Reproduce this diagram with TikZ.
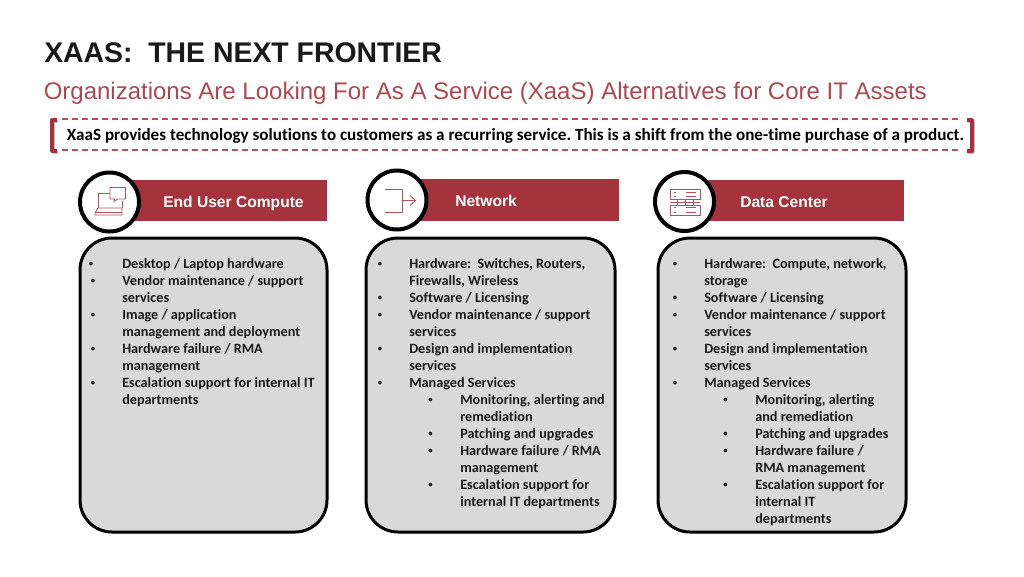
\documentclass[tikz,border=0pt]{standalone}
\usepackage{fontspec}
\setmainfont[RawFeature={-liga}]{Carlito}
\newfontfamily\arial{Liberation Sans}
\definecolor{xred}{HTML}{A5333B}
\definecolor{xicon}{HTML}{B5505A}
\definecolor{xgrey}{HTML}{D9D9D9}
\newlength{\xpx}\setlength{\xpx}{0.75pt}
\newlength{\bux}\setlength{\bux}{0.5pt}
\newcommand{\Dot}{\raisebox{1.8\xpx}{\fontsize{6.5}{6.5}\selectfont •}}
\newcommand{\Bu}[1]{\makebox[32\xpx][l]{\hspace*{\bux}\Dot}#1}
\newcommand{\Co}[1]{\makebox[32\xpx][l]{}#1}
\newcommand{\Sb}[1]{\makebox[51\xpx][l]{}\makebox[32\xpx][l]{\Dot}#1}
\newcommand{\Ss}[1]{\makebox[51\xpx][l]{}\makebox[32\xpx][l]{}#1}
\tikzset{
  x=0.75pt,y=-0.75pt,
  panel/.style={draw=black,line width=2.25pt,fill=xgrey,rounded corners=24pt},
  banner/.style={fill=xred,draw=none},
  ring/.style={draw=black,line width=3pt,fill=white},
  bannertext/.style={text=white,font=\arial\bfseries\fontsize{11.7}{13}\selectfont,anchor=base west,inner sep=0pt},
  body/.style={anchor=north west,align=left,inner sep=0pt,font=\bfseries\fontsize{10.65}{12.75}\selectfont,text=black!90},
  ico/.style={draw=xicon,line width=0.6pt},
  dashline/.style={draw=xicon,line width=0.9pt,dash pattern=on 4.5pt off 3pt},
  brk/.style={draw=xred,line width=2.4pt,line join=round},
  brkshadow/.style={draw=black!25,line width=2.4pt,line join=round}
}
\begin{document}
\begin{tikzpicture}
\useasboundingbox (0,0) rectangle (1024,576);
\fill[white] (0,0) rectangle (1024,576);
\node[anchor=base west,inner sep=0pt,font=\arial\bfseries\fontsize{21.3}{24}\selectfont,text=black!90] (title) at (44,62) {XAAS:\ \ THE NEXT FRONTIER};
\node[anchor=base west,inner sep=0pt,font=\arial\fontsize{18}{22}\selectfont,text=xred!90!white] (sub) at (43.5,99) {Organizations Are Looking For As A Service (XaaS) Alternatives for Core IT Assets};
% callout
\draw[dashline] (62,119) -- (958,119);
\draw[dashline] (62,150) -- (958,150);
\draw[brkshadow] (58,121.5) -- (53.5,121.5) -- (53.5,152.5) -- (58,152.5);
\draw[brkshadow] (968,121.5) -- (973.5,121.5) -- (973.5,152.5) -- (968,152.5);
\draw[brk] (57,120) -- (52,120) -- (52,151) -- (57,151);
\draw[brk] (967,120) -- (972,120) -- (972,151) -- (967,151);
\node[anchor=base west,inner sep=0pt,font=\bfseries\fontsize{12.83}{15}\selectfont] (call) at (66.5,140.5) {\frenchspacing XaaS provides technology solutions to customers as a recurring service. This is a shift from the one-time purchase of a product.};
% banners
\fill[banner] (130,179.5) rectangle (327,220.5);
\fill[banner] (420,179) rectangle (619,220.5);
\fill[banner] (705,180) rectangle (904,221);
\node[bannertext] (b1) at (163,207) {End User Compute};
\node[bannertext] (b2) at (455,206) {Network};
\node[bannertext] (b3) at (740,207) {Data Center};
% rings
\draw[ring] (109.5,202) circle (29.5);
\draw[ring] (397,200) circle (29.5);
\draw[ring] (684.5,201.5) circle (29.5);
% laptop icon
\draw[ico] (98,208) -- (98,193) -- (110,193);
\draw[ico] (122,201) -- (122,208);
\draw[ico] (98,208) -- (122,208) -- (122,215) -- (95,215) -- (95,213) -- (98,208);
\draw[ico] (95,212.5) -- (122,212.5);
\draw[ico] (110,187.5) -- (125.5,187.5) -- (125.5,199) -- (118,199) -- (114,201.5) -- (114.5,199) -- (110,199) -- cycle;
% network icon
\draw[ico] (385,189) -- (402,189) -- (402,212) -- (385,212);
\draw[ico] (402,200.5) -- (415,200.5);
\draw[ico] (410,195.5) -- (415.5,200.5) -- (410,205.5);
% data center icon
\draw[ico] (670,189.5) rectangle (700,199.5);
\draw[ico] (670,205) rectangle (700,215);
\foreach \xx in {677,685,693} {\draw[ico] (\xx,199.5) -- (\xx,205);}
\draw[ico] (670,202) -- (700,202);
\foreach \yy in {189.5,205} {
  \draw[ico] (674,\yy+2.5) -- (676,\yy+2.5);
  \draw[ico] (674,\yy+7) -- (676,\yy+7);
  \draw[ico] (686,\yy+2.5) -- (696,\yy+2.5);
  \draw[ico] (686,\yy+7) -- (696,\yy+7);
}
% panels
\draw[panel] (80,238) rectangle (327,532);
\draw[panel] (366,238) rectangle (615,532);
\draw[panel] (658,238) rectangle (906,532);
\node[body] (t1) at (90,258) {\setlength{\bux}{-1pt}%
\Bu{Desktop / Laptop hardware}\\
\Bu{Vendor maintenance / support}\\
\Co{services}\\
\Bu{Image / application}\\
\Co{management and deployment}\\
\Bu{Hardware failure / RMA}\\
\Co{management}\\
\Bu{Escalation support for internal IT}\\
\Co{departments}};
\node[body] (t2) at (377,258) {%
\Bu{Hardware:\ \ Switches, Routers,}\\
\Co{Firewalls, Wireless}\\
\Bu{Software / Licensing}\\
\Bu{Vendor maintenance / support}\\
\Co{services}\\
\Bu{Design and implementation}\\
\Co{services}\\
\Bu{Managed Services}\\
\Sb{Monitoring, alerting and}\\
\Ss{remediation}\\
\Sb{Patching and upgrades}\\
\Sb{Hardware failure / RMA}\\
\Ss{management}\\
\Sb{Escalation support for}\\
\Ss{internal IT departments}};
\node[body] (t3) at (672,258) {%
\Bu{Hardware:\ \ Compute, network,}\\
\Co{storage}\\
\Bu{Software / Licensing}\\
\Bu{Vendor maintenance / support}\\
\Co{services}\\
\Bu{Design and implementation}\\
\Co{services}\\
\Bu{Managed Services}\\
\Sb{Monitoring, alerting}\\
\Ss{and remediation}\\
\Sb{Patching and upgrades}\\
\Sb{Hardware failure /}\\
\Ss{RMA management}\\
\Sb{Escalation support for}\\
\Ss{internal IT}\\
\Ss{departments}};
\end{tikzpicture}
\end{document}
